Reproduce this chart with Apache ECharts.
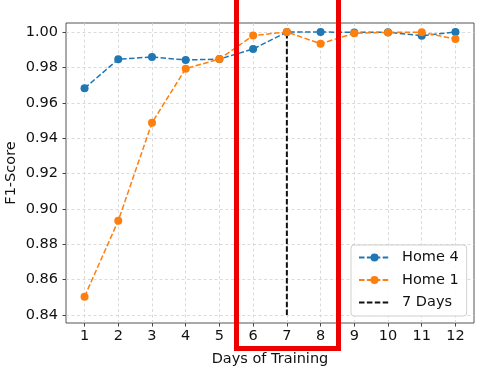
<!DOCTYPE html>
<html><head><meta charset="utf-8">
<script src="https://cdn.jsdelivr.net/npm/echarts@6/dist/echarts.min.js"></script>
<style>html,body{margin:0;padding:0;background:#fff}#c{width:480px;height:370px}</style>
</head><body><div id="c"></div>
<script>
const days = [1, 2, 3, 4, 5, 6, 7, 8, 9, 10, 11, 12];
const home4 = [0.9682, 0.9846, 0.9859, 0.9842, 0.9847, 0.9904, 1.0000, 1.0000, 0.9998, 0.9999, 0.9979, 1.0000];
const home1 = [0.8504, 0.8933, 0.9487, 0.9793, 0.9847, 0.9980, 1.0000, 0.9934, 0.9993, 0.9998, 0.9999, 0.9960];
const cutoffDay = 7;
const cutoffRange = [0.84, 1.00];
const yTicks = [0.84, 0.86, 0.88, 0.90, 0.92, 0.94, 0.96, 0.98, 1.00];
const xTicks = [1, 2, 3, 4, 5, 6, 7, 8, 9, 10, 11, 12];

const FONT = 'DejaVu Sans';
const chart = echarts.init(document.getElementById('c'), null, {renderer: 'canvas'});
const gridLine = {show: true, lineStyle: {color: '#d2d2d2', width: 0.8, type: [3, 2.5]}};
chart.setOption({
  animation: false,
  backgroundColor: '#fff',
  grid: {left: 66, top: 23, width: 408, height: 300, outerBoundsMode: 'none', containLabel: false,
    show: true, borderColor: '#555', borderWidth: 1, backgroundColor: 'transparent'},
  xAxis: {
    type: 'value', min: 0.45, max: 12.55,
    name: 'Days of Training', nameLocation: 'middle', nameGap: 29, nameMoveOverlap: false,
    nameTextStyle: {fontFamily: FONT, fontSize: 14.5, color: '#111'},
    axisLine: {show: false},
    axisTick: {show: true, customValues: xTicks, length: 3.5, lineStyle: {color: '#444'}},
    axisLabel: {customValues: xTicks, fontFamily: FONT, fontSize: 14.5, color: '#111', margin: 6},
    splitLine: gridLine
  },
  yAxis: {
    type: 'value', min: 0.8355, max: 1.0051,
    name: 'F1-Score', nameLocation: 'middle', nameGap: 47, nameRotate: 90, nameMoveOverlap: false,
    nameTextStyle: {fontFamily: FONT, fontSize: 14.5, color: '#111'},
    axisLine: {show: false},
    axisTick: {show: true, customValues: yTicks, length: 3.5, lineStyle: {color: '#444'}},
    axisLabel: {customValues: yTicks, fontFamily: FONT, fontSize: 14.5, color: '#111', margin: 8,
      formatter: v => v.toFixed(2)},
    splitLine: gridLine
  },
  legend: {
    orient: 'vertical', left: 351, top: 245,
    padding: [5, 8, 6, 7],
    itemWidth: 31, itemHeight: 10, itemGap: 7.5,
    backgroundColor: 'rgba(255,255,255,0.85)', borderColor: '#d0d0d0', borderWidth: 1, borderRadius: 3,
    textStyle: {fontFamily: FONT, fontSize: 14.5, color: '#111', padding: [0, 0, 0, 7]},
    data: ['Home 4', 'Home 1', {name: '7 Days', itemStyle: {opacity: 0, color: 'rgba(0,0,0,0)', borderWidth: 0}}]
  },
  series: [
    {name: 'Home 4', type: 'line', data: days.map((d, i) => [d, home4[i]]),
      symbol: 'circle', symbolSize: 8, z: 3,
      itemStyle: {color: '#1f77b4'}, lineStyle: {color: '#1f77b4', width: 1.5, type: [5.5, 2.4]}},
    {name: 'Home 1', type: 'line', data: days.map((d, i) => [d, home1[i]]),
      symbol: 'circle', symbolSize: 8, z: 4,
      itemStyle: {color: '#ff7f0e'}, lineStyle: {color: '#ff7f0e', width: 1.5, type: [5.5, 2.4]}},
    {name: '7 Days', type: 'line', data: cutoffRange.map(v => [cutoffDay, v]),
      symbol: 'none', z: 2,
      itemStyle: {color: '#000'}, lineStyle: {color: '#111', width: 2, type: [5.5, 2.4]}}
  ],
  graphic: [
    {type: 'rect', z: 100, shape: {x: 236.5, y: -5, width: 102, height: 353.5},
      style: {fill: 'none', stroke: '#ee0000', lineWidth: 5}}
  ]
});
</script></body></html>
